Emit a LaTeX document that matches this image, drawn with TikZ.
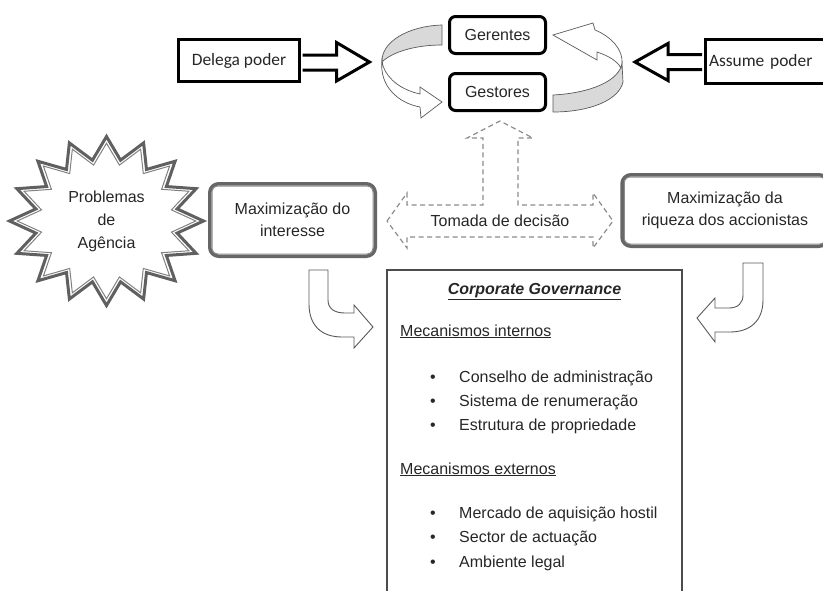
\documentclass[tikz,border=0pt]{standalone}
\usepackage{fontspec}
\setmainfont{Liberation Sans}
\newfontfamily\calibri{Carlito}
\usepackage{tikz}
\usetikzlibrary{positioning, calc, shapes}

\begin{document}
\begin{tikzpicture}[x=1pt, y=-1pt, font=\fontsize{16}{19}\selectfont, text=black!85,
  rbox/.style={draw, line width=3pt, rounded corners=6pt, minimum width=96pt, minimum height=37pt},
  pbox/.style={draw, line width=3pt, minimum height=42pt, font=\calibri\fontsize{17.4}{20}\selectfont},
  mbox/.style={draw=gray!80!black, line width=3.5pt, rounded corners=9pt, align=center, font=\fontsize{16}{22}\selectfont},
  inbox/.style={draw=gray!90, line width=1pt, rounded corners=6pt},
  fatarrow/.style={draw, line width=3pt, fill=white},
  ringback/.style={draw=gray!70!black, line width=0.7pt, fill=gray!30},
  ringfront/.style={draw=gray!70!black, line width=0.7pt, fill=white},
  bendarrow/.style={draw=gray!70!black, line width=0.9pt, fill=white},
  decision/.style={draw=gray!90, line width=1.2pt, dash pattern=on 5pt off 3.5pt},
  item/.style={anchor=base west, inner sep=0pt},
  dot/.style={anchor=base, inner sep=0pt}]
  \useasboundingbox (0,0) rectangle (823,590);

  % top: who holds the power
  \node[rbox] (gerentes) at (497.5,35) {Gerentes};
  \node[rbox] (gestores) at (497.5,92) {Gestores};
  \node[pbox, minimum width=121pt] (delega) at (239,60.5) {Delega poder};
  \node[pbox, anchor=west, text width=120pt, inner xsep=4pt, align=left, minimum height=44pt] (assume) at (703.5,61.5) {Assume poder};

  \draw[fatarrow, shift={(delega.east)}] (1.5,-5.5) -- (35.5,-5.5) -- (35.5,-18) -- (68.5,1.5) -- (35.5,20.5) -- (35.5,9.5) -- (1.5,9.5);
  \draw[fatarrow, shift={(assume.west)}] (-1.5,-7) -- (-35.5,-7) -- (-35.5,-18) -- (-68.5,0.5) -- (-35.5,19) -- (-35.5,8) -- (-1.5,8);

  % circular arrows round gerentes / gestores
  \draw[ringback] (442,25) .. controls (408,26) and (381,42) .. (382,62) .. controls (392,52) and (415,45) .. (442,45) -- cycle;
  \draw[ringfront] (382,60) .. controls (379,86) and (398,103) .. (420,107) -- (421,118) -- (442,102) -- (420,87) -- (420,94) .. controls (402,90) and (388,80) .. (383,66) -- cycle;
  \draw[ringback] (553,95) .. controls (592,93) and (620,80) .. (622,63) -- (623,82) .. controls (619,100) and (590,112) .. (553,112) -- cycle;
  \draw[ringfront] (622,63) .. controls (623,50) and (612,37) .. (595,30) -- (593,23) -- (553,35) -- (597,60) -- (597,52) .. controls (609,56) and (617,61) .. (621,68) -- cycle;

  % middle row
  \node[align=center, inner sep=0pt, font=\fontsize{16}{23}\selectfont] (agencia) at (106.5,221) {Problemas\\de\\Agência};
  \draw[gray!75!black, line width=3pt, shift={(agencia.center)}]
    plot[samples at={0,...,31}] ({ifthenelse(mod(\x,2)==0,97,72)*cos(90+11.25*\x)}, {-ifthenelse(mod(\x,2)==0,84.5,62)*sin(90+11.25*\x)}) -- cycle;
  \draw[gray, line width=1pt, shift={(agencia.center)}]
    plot[samples at={0,...,31}] ({0.92*ifthenelse(mod(\x,2)==0,97,72)*cos(90+11.25*\x)}, {-0.92*ifthenelse(mod(\x,2)==0,84.5,62)*sin(90+11.25*\x)}) -- cycle;

  \node[mbox, minimum width=165.5pt, minimum height=72.5pt] (interesse) at (292.5,220) {Maximização do\\interesse};
  \node[mbox, minimum width=206pt, minimum height=71.5pt] (riqueza) at (725,210.5) {Maximização da\\riqueza dos accionistas};
  \foreach \n in {interesse,riqueza}
    \draw[inbox] ([xshift=4pt,yshift=4pt]\n.south west) rectangle ([xshift=-4pt,yshift=-4pt]\n.north east);

  \node (tomada) at (500,221) {Tomada de decisão};
  \draw[decision, shift={(tomada.center)}] (-113,0) -- (-93,-28) -- (-93,-16) -- (-17,-16) -- (-17,-83) -- (-33,-83) -- (0,-100)
    -- (33,-83) -- (18,-83) -- (18,-16) -- (93,-16) -- (93,-28) -- (113,0) -- (93,27) -- (93,16) -- (-93,16) -- (-93,27) -- cycle;

  % bent arrows into the governance box
  \draw[bendarrow] (309,270) -- (328,270) -- (328,300) .. controls (328,309) and (335,313) .. (345,313) -- (354,313) -- (354,305) -- (373,327)
    -- (354,348) -- (354,337) -- (342,337) .. controls (321,337) and (309,325) .. (309,304) -- cycle;
  \draw[bendarrow] (743,263) -- (763,263) -- (763,300) .. controls (763,321) and (750,332) .. (730,332) -- (715,332) -- (715,342) -- (697,318)
    -- (715,298) -- (715,308) -- (729,308) .. controls (738,308) and (743,303) .. (743,295) -- cycle;

  % corporate governance
  \node[draw=gray!60!black, line width=1.2pt, minimum width=295pt, minimum height=334pt] (cg) at (534.5,437) {};
  \node[anchor=base, inner sep=0pt] (cgtitle) at (534.5,294) {\underline{\textbf{\textit{Corporate Governance}}}};
  \node[item] (internos) at (400,336) {\underline{Mecanismos internos}};
  \node[dot] (b1) at (433,382) {•};
  \node[item] (conselho) at (459,382) {Conselho de administração};
  \node[dot] (b2) at (433,406) {•};
  \node[item] (sistema) at (459,406) {Sistema de renumeração};
  \node[dot] (b3) at (433,430) {•};
  \node[item] (estrutura) at (459,430) {Estrutura de propriedade};
  \node[item] (externos) at (400,474) {\underline{Mecanismos externos}};
  \node[dot] (b4) at (433,518) {•};
  \node[item] (mercado) at (459,518) {Mercado de aquisição hostil};
  \node[dot] (b5) at (433,542) {•};
  \node[item] (sector) at (459,542) {Sector de actuação};
  \node[dot] (b6) at (433,567) {•};
  \node[item] (legal) at (459,567) {Ambiente legal};
\end{tikzpicture}
\end{document}
